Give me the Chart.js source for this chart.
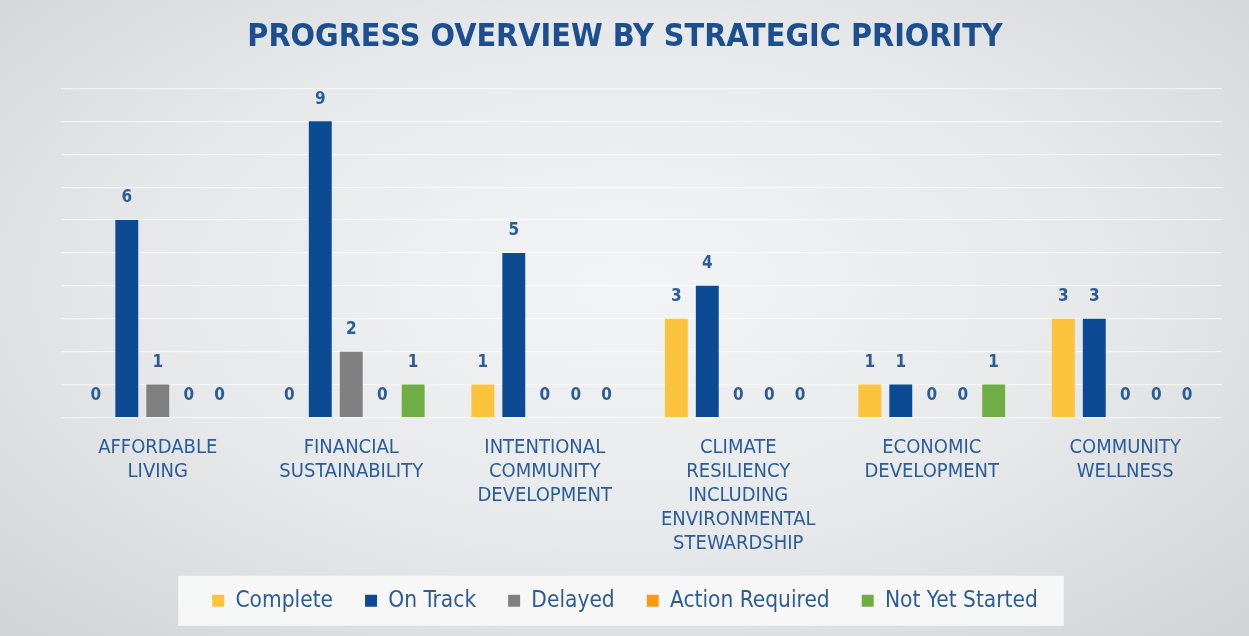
<!DOCTYPE html>
<html>
<head>
<meta charset="utf-8">
<title>Progress Overview by Strategic Priority</title>
<script src="https://cdn.jsdelivr.net/npm/chart.js@4.4.1/dist/chart.umd.min.js"></script>
<style>
    html, body {
        margin: 0;
        padding: 0;
        width: 1249px;
        height: 636px;
        overflow: hidden;
    }
    body {
        background: radial-gradient(ellipse 70% 75% at 50% 45%, #f3f4f5 0%, #e6e8e9 55%, #d2d4d6 100%);
    }
    #wrap {
        position: relative;
        width: 1249px;
        height: 636px;
    }
</style>
</head>
<body>
<div id="wrap">
    <canvas id="progressChart" width="1249" height="636"></canvas>
</div>
<script>
// Categories (strategic priorities), each one split into label lines
const categories = [
    ["AFFORDABLE", "LIVING"],
    ["FINANCIAL", "SUSTAINABILITY"],
    ["INTENTIONAL", "COMMUNITY", "DEVELOPMENT"],
    ["CLIMATE", "RESILIENCY", "INCLUDING", "ENVIRONMENTAL", "STEWARDSHIP"],
    ["ECONOMIC", "DEVELOPMENT"],
    ["COMMUNITY", "WELLNESS"]
];

// Series values, one per category
const complete       = [0, 0, 1, 3, 1, 3];
const onTrack        = [6, 9, 5, 4, 1, 3];
const delayed        = [1, 2, 0, 0, 0, 0];
const actionRequired = [0, 0, 0, 0, 0, 0];
const notYetStarted  = [0, 1, 0, 0, 1, 0];

const seriesNames = ["Complete", "On Track", "Delayed", "Action Required", "Not Yet Started"];
const yTicks = [0, 1, 2, 3, 4, 5, 6, 7, 8, 9, 10];

document.addEventListener("DOMContentLoaded", () => {
    const fontFamily = "'Liberation Sans Narrow', 'DejaVu Sans Condensed', 'Roboto Condensed', 'DejaVu Sans', sans-serif";
    const textBlue = "#2b5c98";

    // Draws the value above every bar
    const valueLabels = {
        id: "valueLabels",
        afterDatasetsDraw(chart) {
            let ctx = chart.ctx;
            ctx.save();
            ctx.font = "bold 17px " + fontFamily;
            ctx.fillStyle = textBlue;
            ctx.textAlign = "center";
            ctx.textBaseline = "middle";
            chart.data.datasets.forEach((ds, i) => {
                let meta = chart.getDatasetMeta(i);
                meta.data.forEach((bar, j) => {
                    ctx.fillText(String(ds.data[j]), bar.x, bar.y - 22);
                });
            });
            ctx.restore();
        }
    };

    // Lifts the legend a little closer to the axis labels,
    // and paints the light panel behind it
    const legendPanel = {
        id: "legendPanel",
        afterLayout(chart) {
            chart.legend.top -= 8;
            chart.legend.bottom -= 8;
        },
        beforeDraw(chart) {
            let legend = chart.legend;
            if (!legend || !legend.legendHitBoxes.length) return;
            let boxes = legend.legendHitBoxes;
            let left = Math.min(...boxes.map(b => b.left)) - 34;
            let right = Math.max(...boxes.map(b => b.left + b.width)) + 26;
            let top = boxes[0].top + boxes[0].height / 2 - 25;
            let ctx = chart.ctx;
            ctx.save();
            ctx.fillStyle = "rgba(248, 248, 248, 0.92)";
            ctx.fillRect(left, top, right - left, 50);
            ctx.restore();
        }
    };

    let ctx = document.getElementById("progressChart").getContext("2d");

    new Chart(ctx, {
        type: "bar",
        data: {
            labels: categories,
            datasets: [
                { label: seriesNames[0], data: complete, backgroundColor: "#fcc43d" },
                { label: seriesNames[1], data: onTrack, backgroundColor: "#0d4a94" },
                { label: seriesNames[2], data: delayed, backgroundColor: "#808080" },
                { label: seriesNames[3], data: actionRequired, backgroundColor: "#fb9a12" },
                { label: seriesNames[4], data: notYetStarted, backgroundColor: "#6fae45" }
            ]
        },
        options: {
            responsive: false,
            animation: false,
            layout: { padding: { left: 28, right: 27, top: 0, bottom: 6 } },
            datasets: {
                bar: { categoryPercentage: 0.8, barPercentage: 0.74 }
            },
            scales: {
                x: {
                    grid: { display: false },
                    border: { display: false },
                    ticks: {
                        color: textBlue,
                        font: { family: fontFamily, size: 20, lineHeight: 1.2 },
                        padding: 10,
                        maxRotation: 0,
                        autoSkip: false
                    }
                },
                y: {
                    min: 0,
                    max: yTicks[yTicks.length - 1],
                    afterBuildTicks: axis => { axis.ticks = yTicks.map(v => ({ value: v })); },
                    afterFit: axis => { axis.width = 33; },
                    border: { display: false },
                    grid: { color: "rgba(255, 255, 255, 0.6)", lineWidth: 1.2, drawTicks: false },
                    ticks: { display: false }
                }
            },
            plugins: {
                title: {
                    display: true,
                    text: "PROGRESS OVERVIEW BY STRATEGIC PRIORITY",
                    color: "#1d4f8e",
                    font: { family: fontFamily, size: 32, weight: "bold" },
                    padding: { top: 18, bottom: 32 }
                },
                legend: {
                    position: "bottom",
                    labels: {
                        color: textBlue,
                        font: { family: fontFamily, size: 22.5 },
                        boxWidth: 12,
                        boxHeight: 12,
                        padding: 32
                    }
                },
                tooltip: { enabled: false }
            }
        },
        plugins: [legendPanel, valueLabels]
    });
});
</script>
</body>
</html>
